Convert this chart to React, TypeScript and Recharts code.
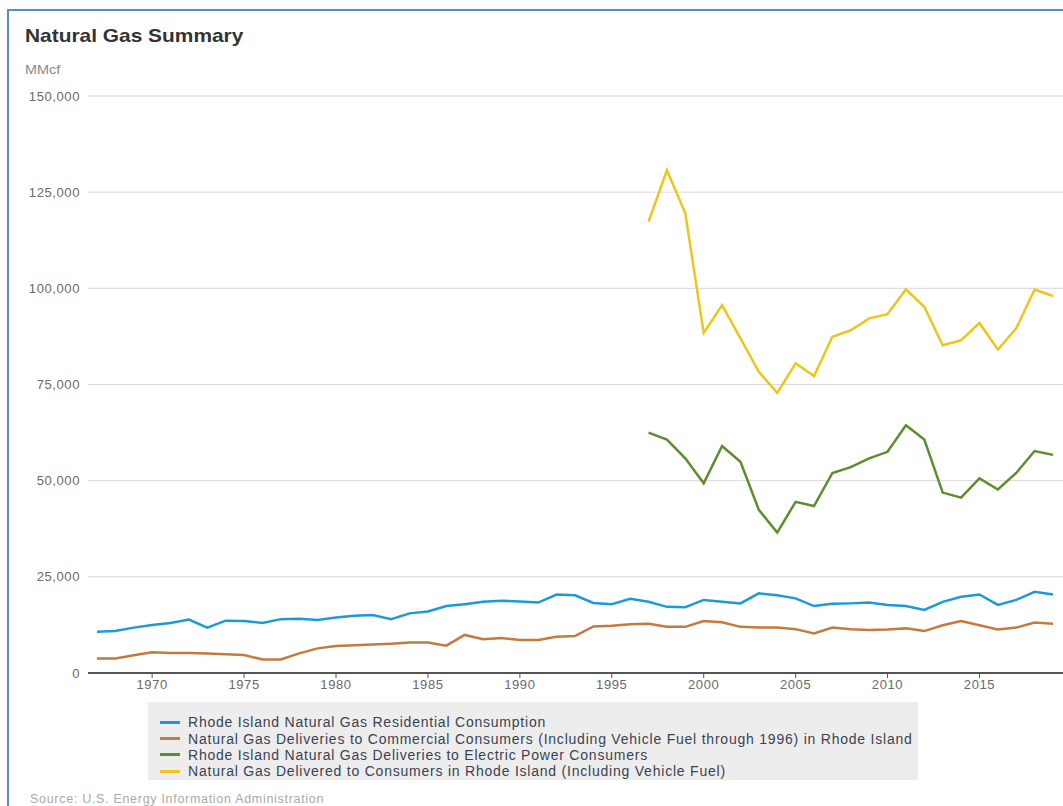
import { LineChart, Line, XAxis, YAxis, CartesianGrid } from 'recharts';

const FONT = '"Liberation Sans", Arial, sans-serif';

const YEARS = [
  1967, 1968, 1969, 1970, 1971, 1972, 1973, 1974, 1975, 1976, 1977, 1978, 1979,
  1980, 1981, 1982, 1983, 1984, 1985, 1986, 1987, 1988, 1989, 1990, 1991, 1992,
  1993, 1994, 1995, 1996, 1997, 1998, 1999, 2000, 2001, 2002, 2003, 2004, 2005,
  2006, 2007, 2008, 2009, 2010, 2011, 2012, 2013, 2014, 2015, 2016, 2017, 2018, 2019,
];

// MMcf
const RESIDENTIAL = [
  10700, 10900, 11800, 12500, 13000, 13900, 11800, 13600, 13500, 13000, 14000, 14100, 13800,
  14400, 14900, 15100, 14000, 15500, 16000, 17400, 17900, 18500, 18800, 18600, 18300, 20400,
  20200, 18200, 17900, 19300, 18500, 17200, 17100, 19000, 18500, 18100, 20700, 20200, 19400,
  17400, 18000, 18100, 18300, 17700, 17400, 16400, 18500, 19800, 20400, 17700, 19000, 21100, 20400,
];

const COMMERCIAL = [
  3800, 3800, 4600, 5400, 5200, 5200, 5100, 4900, 4700, 3500, 3500, 5100, 6400,
  7000, 7200, 7400, 7600, 7900, 7900, 7100, 9900, 8800, 9100, 8600, 8600, 9400,
  9600, 12100, 12300, 12700, 12800, 12000, 12000, 13500, 13200, 12000, 11800, 11800, 11400,
  10300, 11800, 11400, 11200, 11300, 11600, 10900, 12400, 13500, 12400, 11300, 11800, 13100, 12800,
];

// electric power and total start in 1997
const ELECTRIC = [
  null, null, null, null, null, null, null, null, null, null, null, null, null,
  null, null, null, null, null, null, null, null, null, null, null, null, null,
  null, null, null, null, 62500, 60700, 55800, 49300, 59000, 54900, 42400, 36500, 44500,
  43400, 52000, 53500, 55800, 57500, 64400, 60700, 46900, 45600, 50600, 47700, 52000, 57700, 56700,
];

const TOTAL = [
  null, null, null, null, null, null, null, null, null, null, null, null, null,
  null, null, null, null, null, null, null, null, null, null, null, null, null,
  null, null, null, null, 117300, 130700, 119500, 88400, 95600, 87000, 78300, 72800, 80500,
  77200, 87400, 89100, 92200, 93300, 99700, 95200, 85200, 86500, 91000, 84100, 89600, 99700, 98000,
];

const X_TICKS = [1970, 1975, 1980, 1985, 1990, 1995, 2000, 2005, 2010, 2015];
const Y_TICKS = [0, 25000, 50000, 75000, 100000, 125000, 150000];

const SERIES = [
  { key: 'residential', name: 'Rhode Island Natural Gas Residential Consumption', color: '#1d9ad6' },
  {
    key: 'commercial',
    name: 'Natural Gas Deliveries to Commercial Consumers (Including Vehicle Fuel through 1996) in Rhode Island',
    color: '#c47a3c',
  },
  { key: 'electric', name: 'Rhode Island Natural Gas Deliveries to Electric Power Consumers', color: '#5b8f2c' },
  { key: 'total', name: 'Natural Gas Delivered to Consumers in Rhode Island (Including Vehicle Fuel)', color: '#eec51c' },
];

const rows = YEARS.map((year, i) => ({
  year,
  residential: RESIDENTIAL[i],
  commercial: COMMERCIAL[i],
  electric: ELECTRIC[i],
  total: TOTAL[i],
}));

const tickStyle = { fontSize: 13, fill: '#6a6a6a', letterSpacing: 0.6, fontFamily: FONT };

export default function App() {
  return (
    <div
      style={{
        position: 'absolute',
        left: 0,
        top: 0,
        width: 1063,
        height: 806,
        overflow: 'hidden',
        background: '#fff',
        fontFamily: FONT,
      }}
    >
      <div
        style={{
          position: 'absolute',
          left: 7,
          top: 9,
          width: 1200,
          height: 1000,
          borderLeft: '2px solid #5a8bc9',
          borderTop: '2px solid #5a8bc9',
        }}
      />
      <div
        style={{
          position: 'absolute',
          left: 25,
          top: 26,
          fontSize: 19,
          lineHeight: '19px',
          fontWeight: 700,
          color: '#333',
          whiteSpace: 'nowrap',
          transform: 'scaleX(1.1)',
          transformOrigin: 'left',
        }}
      >
        Natural Gas Summary
      </div>
      <div
        style={{
          position: 'absolute',
          left: 25,
          top: 64,
          fontSize: 12,
          lineHeight: '12px',
          color: '#888',
          transform: 'scaleX(1.2)',
          transformOrigin: 'left',
        }}
      >
        MMcf
      </div>

      <div style={{ position: 'absolute', left: 0, top: 0 }}>
        <LineChart width={1063} height={720} data={rows} margin={{ top: 96, right: 0, left: 0, bottom: 17 }}>
          <CartesianGrid vertical={false} stroke="#d9d9d9" />
          <XAxis
            dataKey="year"
            type="number"
            domain={[1967, 2019]}
            ticks={X_TICKS}
            padding={{ left: 9, right: 10 }}
            axisLine={{ stroke: '#555', strokeWidth: 2 }}
            tickLine={{ stroke: '#555' }}
            tickSize={5}
            tickMargin={2}
            height={30}
            tick={tickStyle}
          />
          <YAxis
            domain={[0, 150000]}
            ticks={Y_TICKS}
            width={88}
            axisLine={false}
            tickLine={false}
            tick={tickStyle}
            tickFormatter={(v: number) => v.toLocaleString('en-US')}
          />
          {SERIES.map((s) => (
            <Line
              key={s.key}
              dataKey={s.key}
              stroke={s.color}
              strokeWidth={2.5}
              dot={false}
              isAnimationActive={false}
            />
          ))}
        </LineChart>
      </div>

      <div
        style={{
          position: 'absolute',
          left: 148,
          top: 702,
          width: 770,
          height: 78,
          background: '#ededed',
          boxSizing: 'border-box',
          paddingTop: 12,
        }}
      >
        {SERIES.map((s) => (
          <div
            key={s.key}
            style={{ display: 'flex', alignItems: 'center', height: 16.4, whiteSpace: 'nowrap' }}
          >
            <span style={{ width: 20, height: 3, background: s.color, marginLeft: 12, marginRight: 8 }} />
            <span style={{ fontSize: 14, color: '#3a4252', letterSpacing: 0.78 }}>{s.name}</span>
          </div>
        ))}
      </div>

      <div
        style={{
          position: 'absolute',
          left: 30,
          top: 792,
          fontSize: 12.5,
          lineHeight: '14px',
          color: '#aaa',
          letterSpacing: 0.7,
          whiteSpace: 'nowrap',
        }}
      >
        Source: U.S. Energy Information Administration
      </div>
    </div>
  );
}
